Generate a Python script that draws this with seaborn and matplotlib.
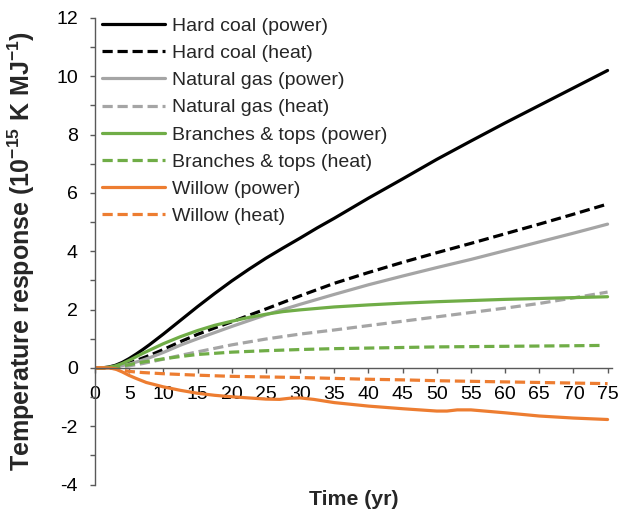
import matplotlib
matplotlib.use("Agg")
import matplotlib.pyplot as plt
import seaborn as sns
import pandas as pd
from matplotlib.ticker import MultipleLocator

# ---------------- data ----------------
series_names = [
    "Hard coal (power)", "Hard coal (heat)",
    "Natural gas (power)", "Natural gas (heat)",
    "Branches & tops (power)", "Branches & tops (heat)",
    "Willow (power)", "Willow (heat)",
]

hard_coal_power_x = [0, 1, 2, 3, 4, 5, 6, 7, 8, 9, 10, 12.5, 15, 17.5, 20, 22.5, 25, 27.5, 30, 32.5, 35, 40, 45, 50, 55, 60, 65, 70, 75]
hard_coal_power_y = [0, 0, 0.03, 0.09, 0.19, 0.32, 0.47, 0.63, 0.8, 0.98, 1.16, 1.63, 2.1, 2.55, 2.98, 3.38, 3.76, 4.11, 4.45, 4.8, 5.13, 5.82, 6.48, 7.15, 7.78, 8.4, 9.0, 9.6, 10.2]

hard_coal_heat_x = [0, 1, 2, 3, 4, 5, 6, 7, 8, 10, 12.5, 15, 17.5, 20, 25, 30, 35, 40, 45, 50, 55, 60, 65, 70, 75]
hard_coal_heat_y = [0, 0, 0.02, 0.05, 0.1, 0.17, 0.25, 0.34, 0.43, 0.63, 0.9, 1.15, 1.37, 1.58, 2.02, 2.47, 2.9, 3.27, 3.62, 3.95, 4.27, 4.6, 4.93, 5.27, 5.62]

natural_gas_power_x = [0, 1, 2, 3, 4, 5, 6, 7, 8, 10, 12.5, 15, 17.5, 20, 25, 30, 35, 40, 45, 50, 55, 60, 65, 70, 75]
natural_gas_power_y = [0, 0, 0.01, 0.04, 0.08, 0.13, 0.2, 0.27, 0.35, 0.53, 0.78, 1.0, 1.21, 1.42, 1.82, 2.18, 2.52, 2.85, 3.15, 3.44, 3.72, 4.02, 4.32, 4.62, 4.93]

natural_gas_heat_x = [0, 1, 2, 3, 4, 5, 7, 10, 12.5, 15, 17.5, 20, 25, 30, 35, 40, 45, 50, 55, 60, 65, 70, 75]
natural_gas_heat_y = [0, 0, 0.01, 0.02, 0.04, 0.07, 0.15, 0.3, 0.43, 0.55, 0.67, 0.79, 0.99, 1.16, 1.3, 1.45, 1.6, 1.75, 1.9, 2.05, 2.21, 2.4, 2.6]

branches_power_x = [0, 1, 2, 3, 4, 5, 6, 7, 8, 10, 12.5, 15, 17.5, 20, 22.5, 25, 27.5, 30, 35, 40, 45, 50, 55, 60, 65, 70, 75]
branches_power_y = [0, 0, 0.02, 0.07, 0.15, 0.26, 0.38, 0.5, 0.61, 0.83, 1.07, 1.28, 1.46, 1.6, 1.73, 1.84, 1.93, 1.99, 2.09, 2.16, 2.22, 2.27, 2.31, 2.35, 2.38, 2.41, 2.44]

branches_heat_x = [0, 1, 2, 3, 4, 5, 7, 10, 12.5, 15, 17.5, 20, 25, 30, 35, 40, 45, 50, 55, 60, 65, 70, 74]
branches_heat_y = [0, 0, 0.01, 0.03, 0.07, 0.11, 0.2, 0.31, 0.39, 0.46, 0.5, 0.54, 0.59, 0.63, 0.66, 0.68, 0.7, 0.72, 0.73, 0.74, 0.75, 0.76, 0.77]

willow_power_x = [0, 1, 2, 3, 4, 5, 6, 7.5, 10, 12.5, 15, 17.5, 20, 22.5, 25, 27, 28.5, 30, 32, 35, 40, 45, 50, 51.5, 53, 55, 56.5, 60, 65, 70, 75]
willow_power_y = [0, 0, 0, -0.04, -0.14, -0.26, -0.36, -0.5, -0.65, -0.77, -0.87, -0.94, -0.99, -1.03, -1.07, -1.08, -1.04, -1.03, -1.08, -1.19, -1.31, -1.4, -1.48, -1.48, -1.44, -1.44, -1.47, -1.54, -1.65, -1.72, -1.77]

willow_heat_x = [0, 1, 2, 3, 4, 5, 7, 10, 15, 20, 25, 30, 35, 40, 45, 50, 55, 60, 65, 70, 75]
willow_heat_y = [0, 0, 0, -0.03, -0.08, -0.12, -0.16, -0.2, -0.25, -0.29, -0.31, -0.33, -0.36, -0.39, -0.41, -0.44, -0.46, -0.48, -0.5, -0.52, -0.54]

x_ticks = list(range(0, 80, 5))
y_ticks = [-4, -2, 0, 2, 4, 6, 8, 10, 12]

# ---------------- style ----------------
sns.set_style("ticks")
plt.rcParams['font.family'] = ['Liberation Sans', 'DejaVu Sans']
plt.rcParams['mathtext.fontset'] = 'custom'
plt.rcParams['mathtext.rm'] = 'Liberation Sans'
plt.rcParams['mathtext.bf'] = 'Liberation Sans:bold'
plt.rcParams['axes.unicode_minus'] = False

colors = ["#000000", "#000000", "#A5A5A5", "#A5A5A5",
          "#70AD47", "#70AD47", "#ED7D31", "#ED7D31"]
solid = "-"
dashed = (0, (3.2, 1.5))
styles = [solid, dashed] * 4

xs_all = [hard_coal_power_x, hard_coal_heat_x, natural_gas_power_x, natural_gas_heat_x,
          branches_power_x, branches_heat_x, willow_power_x, willow_heat_x]
ys_all = [hard_coal_power_y, hard_coal_heat_y, natural_gas_power_y, natural_gas_heat_y,
          branches_power_y, branches_heat_y, willow_power_y, willow_heat_y]

fig = plt.figure(figsize=(6.21, 5.11), dpi=100)
ax = fig.add_axes([0.153, 0.0518, 0.832, 0.913])

for name, xs, ys, c, ls in zip(series_names, xs_all, ys_all, colors, styles):
    df = pd.DataFrame({"Time": xs, "Response": ys})
    sns.lineplot(data=df, x="Time", y="Response", ax=ax, color=c,
                 linestyle=ls, linewidth=2.3, label=name,
                 dash_capstyle="butt", solid_capstyle="round")

ax.set_xlim(0, 75.6)
ax.set_ylim(-4, 12)
ax.set_xticks(x_ticks)
ax.set_yticks(y_ticks)
ax.yaxis.set_minor_locator(MultipleLocator(1))

for s in ["top", "right"]:
    ax.spines[s].set_visible(False)
ax.spines["bottom"].set_position(("data", 0))
for s in ["left", "bottom"]:
    ax.spines[s].set_color("#595959")
    ax.spines[s].set_linewidth(1.0)

ax.tick_params(axis="both", which="both", direction="out", length=3.3,
               width=1.0, color="#595959", labelsize=14, labelcolor="black")
ax.tick_params(axis="y", which="both", pad=9)
ax.tick_params(axis="x", which="both", pad=10)

ax.set_xlabel("Time (yr)", fontsize=15.3, fontweight="bold")
ax.set_ylabel(r"Temperature response (10$^{\mathbf{-15}}$ K MJ$^{\mathbf{-1}}$)",
              fontsize=18, fontweight="bold")
ax.xaxis.set_label_coords(0.5, -0.011)
ax.yaxis.set_label_coords(-0.112, 0.5)

leg = ax.legend(loc="upper left", bbox_to_anchor=(0.1638, 0.966),
                bbox_transform=fig.transFigure, frameon=False, fontsize=14,
                borderpad=0, borderaxespad=0, handlelength=3.26,
                handletextpad=0.35, labelspacing=0.49)

fig.savefig("out.png", dpi=100)
